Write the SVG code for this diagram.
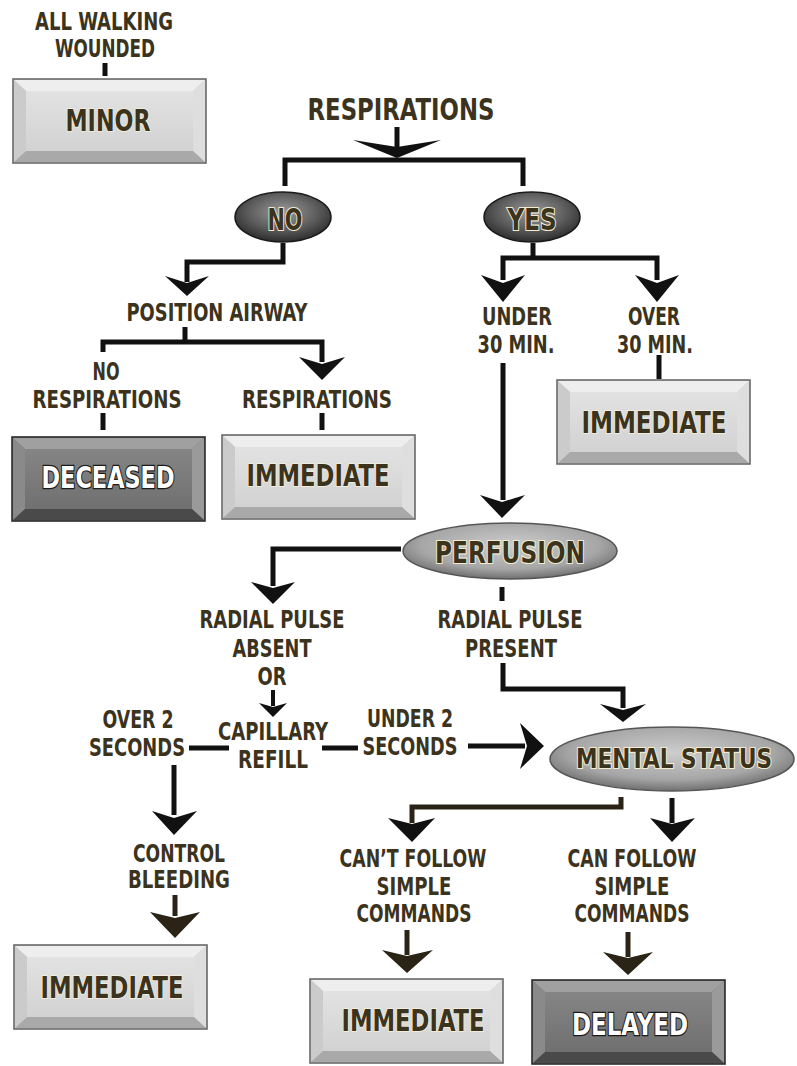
<svg xmlns="http://www.w3.org/2000/svg" xmlns:xlink="http://www.w3.org/1999/xlink" width="797" height="1066" viewBox="0 0 797 1066">
<style>
.t{font-family:"DejaVu Sans Condensed","Liberation Sans Narrow","Liberation Sans",sans-serif;font-weight:bold;fill:#3b331d;text-anchor:middle;font-size:24px}
.tl{font-size:30px}
.tb{font-size:31px;stroke:#f6f1dc;stroke-width:1.6;paint-order:stroke}
.te{font-size:30px;stroke:#f3ecd0;stroke-width:2.2;paint-order:stroke}
.tm{font-size:26px}
.tw{font-size:31px;fill:#ffffff;stroke:#1a1a1a;stroke-width:2.4;paint-order:stroke}
.ln{stroke:#111;stroke-width:5;fill:none;stroke-linejoin:miter;stroke-linecap:butt}
.lb{stroke:#2a2316}
.hd{fill:#111}
.hb{fill:#2a2316}
</style>
<defs>
<linearGradient id="faceL" x1="0" y1="0" x2="0" y2="1"><stop offset="0" stop-color="#e2e2e2"/><stop offset="1" stop-color="#d2d2d2"/></linearGradient>
<linearGradient id="faceD" x1="0" y1="0" x2="0" y2="1"><stop offset="0" stop-color="#858585"/><stop offset="1" stop-color="#707070"/></linearGradient>
<radialGradient id="ellD" cx="50%" cy="40%" r="60%"><stop offset="0" stop-color="#9a9a9a"/><stop offset="0.6" stop-color="#5c5c5c"/><stop offset="1" stop-color="#2c2c2c"/></radialGradient>
<radialGradient id="ellL" cx="50%" cy="40%" r="60%"><stop offset="0" stop-color="#cdcdcd"/><stop offset="0.7" stop-color="#a6a6a6"/><stop offset="1" stop-color="#707070"/></radialGradient>
<g id="btnL">
<rect x="0" y="0" width="193" height="84" fill="#d6d6d6" stroke="#6a6a6a" stroke-width="1.6"/>
<polygon points="1,1 192,1 180,12 13,12" fill="#eeeeee"/>
<polygon points="1,1 13,12 13,72 1,83" fill="#cbcbcb"/>
<polygon points="192,1 192,83 180,72 180,12" fill="#dedede"/>
<polygon points="1,83 13,72 180,72 192,83" fill="#a9a9a9"/>
<rect x="13" y="12" width="167" height="60" fill="url(#faceL)"/>
</g>
<g id="btnD">
<rect x="0" y="0" width="193" height="84" fill="#777" stroke="#2b2b2b" stroke-width="1.6"/>
<polygon points="1,1 192,1 180,12 13,12" fill="#a0a0a0"/>
<polygon points="1,1 13,12 13,72 1,83" fill="#8a8a8a"/>
<polygon points="192,1 192,83 180,72 180,12" fill="#9a9a9a"/>
<polygon points="1,83 13,72 180,72 192,83" fill="#4a4a4a"/>
<rect x="13" y="12" width="167" height="60" fill="url(#faceD)"/>
</g>
</defs>
<rect width="797" height="1066" fill="#ffffff"/>

<g id="connectors">
<path class="ln" d="M397,127 V148"/>
<polygon class="hd" points="353,140 397,147 441,140 397,158"/>
<path class="ln" d="M285,186 V160 H523 V186"/>
<path class="ln" d="M283,243 V262 H187 V282"/>
<polygon class="hd" points="165,276 187,283 209,276 187,296"/>
<path class="ln" d="M185,327 V342"/>
<path class="ln" d="M103,352 V342 H322 V362"/>
<polygon class="hd" points="299,357 322,364 345,357 322,380"/>
<path class="ln" d="M105,63 V76"/>
<path class="ln" d="M103,413 V430"/>
<path class="ln" d="M322,413 V430"/>
<path class="ln" d="M533,243 V258"/>
<path class="ln" d="M503,280 V258 H657 V280"/>
<polygon class="hd" points="481,275 503,283 525,275 503,302"/>
<polygon class="hd" points="635,275 657,283 679,275 657,302"/>
<path class="ln" d="M659,355 V379"/>
<path class="ln" d="M503,363 V500"/>
<polygon class="hd" points="480,495 502,502 525,495 502,518"/>
<path class="ln" d="M401,549 H273 V586"/>
<polygon class="hd" points="251,582 273,588 295,582 273,604"/>
<path class="ln" d="M502,587 V601"/>
<path class="ln" d="M273,690 V706" style="stroke-width:4"/>
<polygon class="hd" points="259,703 273,707 287,703 273,717"/>
<path class="ln" d="M189,748 H229"/>
<path class="ln" d="M322,748 H358"/>
<path class="ln" d="M468,746 H525"/>
<polygon class="hd" points="520,723 527,746 520,769 544,746"/>
<path class="ln" d="M503,663 V689 H623 V708"/>
<polygon class="hd" points="600,704 623,710 646,704 623,722"/>
<path class="ln" d="M174,765 V815"/>
<polygon class="hd" points="152,811 174,818 197,811 174,835"/>
<path class="ln lb" d="M175,895 V916"/>
<polygon class="hb" points="150,912 175,918 200,912 175,938"/>
<path class="ln lb" d="M621,797 V807 H412 V823"/>
<polygon class="hd" points="388,818 412,824 435,818 412,842"/>
<path class="ln" d="M672,798 V823"/>
<polygon class="hd" points="650,818 672,824 695,818 672,842"/>
<path class="ln lb" d="M407,930 V955"/>
<polygon class="hb" points="382,950 407,956 433,950 407,973"/>
<path class="ln lb" d="M628,932 V957"/>
<polygon class="hb" points="603,952 628,958 653,952 628,975"/>
</g>

<g id="labels">
<text class="t" x="104" y="30" textLength="138" lengthAdjust="spacingAndGlyphs">ALL WALKING</text>
<text class="t" x="105" y="57" textLength="100" lengthAdjust="spacingAndGlyphs">WOUNDED</text>
<text class="t tl" x="401" y="120" textLength="187" lengthAdjust="spacingAndGlyphs">RESPIRATIONS</text>
<text class="t" x="217" y="321" textLength="181" lengthAdjust="spacingAndGlyphs">POSITION AIRWAY</text>
<text class="t" x="106" y="380" textLength="27" lengthAdjust="spacingAndGlyphs">NO</text>
<text class="t" x="107" y="408" textLength="149" lengthAdjust="spacingAndGlyphs">RESPIRATIONS</text>
<text class="t" x="317" y="408" textLength="150" lengthAdjust="spacingAndGlyphs">RESPIRATIONS</text>
<text class="t" x="517" y="325" textLength="70" lengthAdjust="spacingAndGlyphs">UNDER</text>
<text class="t" x="516" y="353" textLength="77" lengthAdjust="spacingAndGlyphs">30 MIN.</text>
<text class="t" x="654" y="325" textLength="52" lengthAdjust="spacingAndGlyphs">OVER</text>
<text class="t" x="655" y="353" textLength="76" lengthAdjust="spacingAndGlyphs">30 MIN.</text>
<text class="t" x="272" y="628" textLength="145" lengthAdjust="spacingAndGlyphs">RADIAL PULSE</text>
<text class="t" x="272" y="657" textLength="79" lengthAdjust="spacingAndGlyphs">ABSENT</text>
<text class="t" x="272" y="685" textLength="29" lengthAdjust="spacingAndGlyphs">OR</text>
<text class="t" x="510" y="628" textLength="145" lengthAdjust="spacingAndGlyphs">RADIAL PULSE</text>
<text class="t" x="511" y="657" textLength="92" lengthAdjust="spacingAndGlyphs">PRESENT</text>
<text class="t" x="138" y="728" textLength="71" lengthAdjust="spacingAndGlyphs">OVER 2</text>
<text class="t" x="137" y="756" textLength="96" lengthAdjust="spacingAndGlyphs">SECONDS</text>
<text class="t" x="273" y="740" textLength="110" lengthAdjust="spacingAndGlyphs">CAPILLARY</text>
<text class="t" x="273" y="768" textLength="70" lengthAdjust="spacingAndGlyphs">REFILL</text>
<text class="t" x="410" y="727" textLength="86" lengthAdjust="spacingAndGlyphs">UNDER 2</text>
<text class="t" x="410" y="755" textLength="95" lengthAdjust="spacingAndGlyphs">SECONDS</text>
<text class="t" x="179" y="862" textLength="92" lengthAdjust="spacingAndGlyphs">CONTROL</text>
<text class="t" x="179" y="888" textLength="102" lengthAdjust="spacingAndGlyphs">BLEEDING</text>
<text class="t" x="413" y="867" textLength="147" lengthAdjust="spacingAndGlyphs">CAN’T FOLLOW</text>
<text class="t" x="414" y="895" textLength="75" lengthAdjust="spacingAndGlyphs">SIMPLE</text>
<text class="t" x="414" y="922" textLength="115" lengthAdjust="spacingAndGlyphs">COMMANDS</text>
<text class="t" x="632" y="867" textLength="129" lengthAdjust="spacingAndGlyphs">CAN FOLLOW</text>
<text class="t" x="632" y="895" textLength="75" lengthAdjust="spacingAndGlyphs">SIMPLE</text>
<text class="t" x="632" y="922" textLength="115" lengthAdjust="spacingAndGlyphs">COMMANDS</text>
</g>

<g id="node-minor">
<use xlink:href="#btnL" x="13" y="79"/>
<text class="t tb" x="108" y="131" textLength="85" lengthAdjust="spacingAndGlyphs">MINOR</text>
</g>
<g id="node-no">
<ellipse cx="283" cy="217" rx="48" ry="25" fill="url(#ellD)" stroke="#1a1a1a" stroke-width="1.5"/>
<text class="t te" x="285" y="230" textLength="35" lengthAdjust="spacingAndGlyphs">NO</text>
</g>
<g id="node-yes">
<ellipse cx="532" cy="217" rx="48" ry="25" fill="url(#ellD)" stroke="#1a1a1a" stroke-width="1.5"/>
<text class="t te" x="532" y="230" textLength="49" lengthAdjust="spacingAndGlyphs">YES</text>
</g>
<g id="node-deceased">
<use xlink:href="#btnD" x="12" y="437"/>
<text class="t tw" x="108" y="488" textLength="133" lengthAdjust="spacingAndGlyphs">DECEASED</text>
</g>
<g id="node-immediate-1">
<use xlink:href="#btnL" x="222" y="435"/>
<text class="t tb" x="318" y="486" textLength="143" lengthAdjust="spacingAndGlyphs">IMMEDIATE</text>
</g>
<g id="node-immediate-2">
<use xlink:href="#btnL" x="557" y="380"/>
<text class="t tb" x="654" y="433" textLength="145" lengthAdjust="spacingAndGlyphs">IMMEDIATE</text>
</g>
<g id="node-perfusion">
<ellipse cx="510" cy="551" rx="107" ry="28" fill="url(#ellL)" stroke="#555" stroke-width="1.5"/>
<text class="t te" x="510" y="563" textLength="150" lengthAdjust="spacingAndGlyphs">PERFUSION</text>
</g>
<g id="node-mental-status">
<ellipse cx="672" cy="759" rx="122" ry="32" fill="url(#ellL)" stroke="#555" stroke-width="1.5"/>
<text class="t te tm" x="674" y="768" textLength="196" lengthAdjust="spacingAndGlyphs">MENTAL STATUS</text>
</g>
<g id="node-immediate-3">
<use xlink:href="#btnL" x="14" y="945"/>
<text class="t tb" x="112" y="998" textLength="143" lengthAdjust="spacingAndGlyphs">IMMEDIATE</text>
</g>
<g id="node-immediate-4">
<use xlink:href="#btnL" x="310" y="979"/>
<text class="t tb" x="413" y="1031" textLength="143" lengthAdjust="spacingAndGlyphs">IMMEDIATE</text>
</g>
<g id="node-delayed">
<use xlink:href="#btnD" x="532" y="980"/>
<text class="t tw" x="630" y="1035" textLength="116" lengthAdjust="spacingAndGlyphs">DELAYED</text>
</g>
</svg>
